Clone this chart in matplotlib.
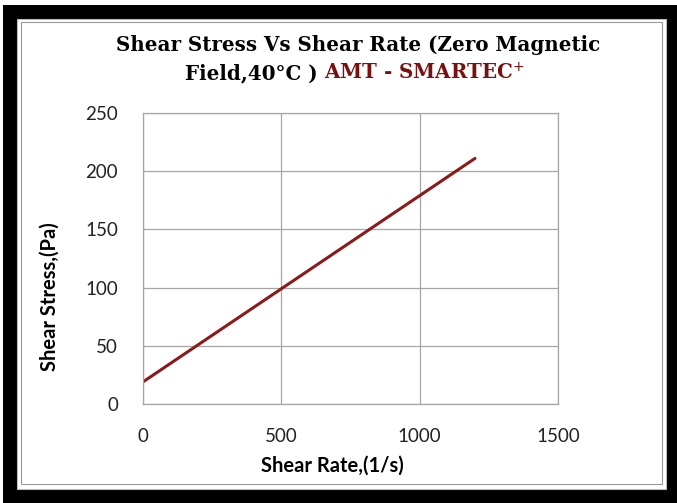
import matplotlib
matplotlib.use("Agg")
import matplotlib.pyplot as plt
from matplotlib.patches import Rectangle

# Données
shear_rate = [0, 100, 200, 300, 400, 500, 600, 700, 800, 900, 1000, 1100, 1200]
shear_stress = [19, 35, 51, 67, 83, 99, 115, 131, 147, 163, 179, 195, 211]

x_ticks = [0, 500, 1000, 1500]
y_ticks = [0, 50, 100, 150, 200, 250]

W, H = 677, 503
fig = plt.figure(figsize=(W / 100, H / 100), dpi=100)
fig.patch.set_facecolor('white')

def px(x0, y0, x1, y1):
    # rectangle en pixels (origine en haut à gauche) -> coordonnées figure
    return (x0 / W, 1 - y1 / H), (x1 - x0) / W, (y1 - y0) / H

# Cadre noir et panneau blanc
xy, w, h = px(3, 5, 677, 503)
fig.patches.append(Rectangle(xy, w, h, transform=fig.transFigure, facecolor='black', edgecolor='none', zorder=0))
xy, w, h = px(17, 19, 666, 489)
fig.patches.append(Rectangle(xy, w, h, transform=fig.transFigure, facecolor='white', edgecolor='#bbbbbb', lw=0.8, zorder=1))
xy, w, h = px(21, 22, 662, 484)
fig.patches.append(Rectangle(xy, w, h, transform=fig.transFigure, facecolor='white', edgecolor='#999999', lw=0.8, zorder=2))

xy, w, h = px(143, 113, 558, 404)
ax = fig.add_axes([xy[0], xy[1], w, h])
ax.set_zorder(5)
ax.set_facecolor('none')
ax.plot(shear_rate, shear_stress, color='#8b1a1a', lw=2.2, solid_capstyle='round')

ax.set_xlim(0, 1500)
ax.set_ylim(0, 250)
ax.set_xticks(x_ticks)
ax.set_yticks(y_ticks)
ax.grid(True, color='#a6a6a6', lw=0.9)
ax.set_axisbelow(True)
for s in ax.spines.values():
    s.set_color('#a6a6a6')
    s.set_linewidth(0.9)
ax.tick_params(length=0, labelsize=13.5, colors='#222222')
ax.tick_params(axis='x', pad=17)
ax.tick_params(axis='y', pad=18)
for lab in ax.get_xticklabels() + ax.get_yticklabels():
    lab.set_family('Lato')

ax.set_xlabel('Shear Rate,(1/s)', fontsize=14.5, fontweight='bold', family='Lato', va='center')
ax.set_ylabel('Shear Stress,(Pa)', fontsize=14.5, fontweight='bold', family='Lato', va='center')
ax.xaxis.set_label_coords(0.5 * (332 - 143) / 207.5, (404 - 466) / 291)
ax.yaxis.set_label_coords((50 - 143) / 415, (404 - 297) / 291)

# Titre sur deux lignes, fin en rouge foncé
tfont = dict(family='DejaVu Serif', fontweight='bold', fontsize=14.3)
fig.text(358 / W, 1 - 45 / H, 'Shear Stress Vs Shear Rate (Zero Magnetic', ha='center', va='center', zorder=6, **tfont)
t1 = fig.text(0, 1 - 73 / H, 'Field,40°C ) ', ha='left', va='center', zorder=6, **tfont)
t2 = fig.text(0, 1 - 73 / H, 'AMT - SMARTEC$^{+}$', ha='left', va='center', color='#7a1010', zorder=6, **tfont)
fig.canvas.draw()
r = fig.canvas.get_renderer()
w1 = t1.get_window_extent(r).width
w2 = t2.get_window_extent(r).width
x0 = 355 - (w1 + w2) / 2
t1.set_x(x0 / W)
t2.set_x((x0 + w1) / W)

plt.savefig('out.png', dpi=100, facecolor='white')
